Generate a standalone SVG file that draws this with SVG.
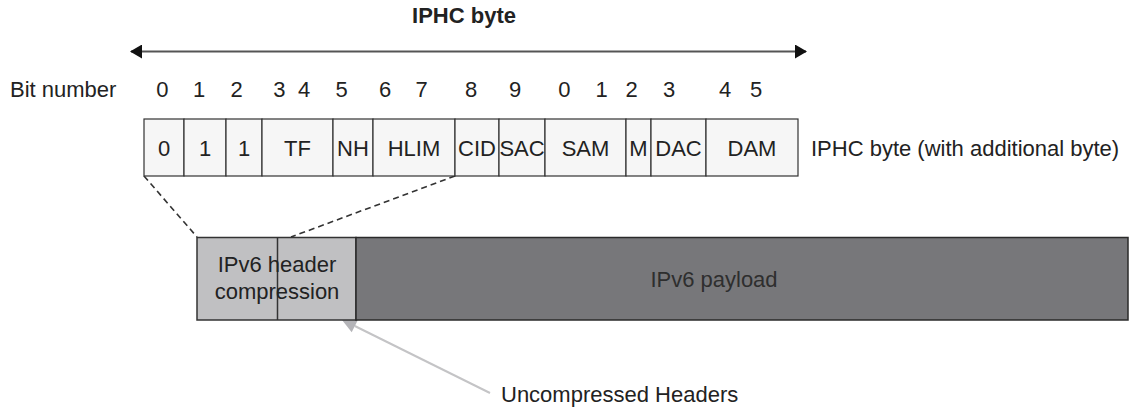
<svg xmlns="http://www.w3.org/2000/svg" width="1129" height="408" viewBox="0 0 1129 408">
<defs>
<style>
text{font-family:"Liberation Sans",Arial,sans-serif;font-size:22px;fill:#222}
.c{text-anchor:middle}
.b{font-weight:bold}
.cell{fill:#f6f6f6;stroke:#333;stroke-width:1.2}
.dash{stroke:#333;stroke-width:1.6;stroke-dasharray:6,4;fill:none}
</style>
<marker id="ah" viewBox="0 0 12 14" refX="11" refY="7" markerWidth="12" markerHeight="14" markerUnits="userSpaceOnUse" orient="auto-start-reverse">
<path d="M0,0 L12,7 L0,14 Z" fill="#111"/>
</marker>
</defs>
<rect width="1129" height="408" fill="#fff"/>
<g id="title">
<text class="c b" x="464" y="23">IPHC byte</text>
</g>
<g id="connectors">
<line x1="131" y1="51.5" x2="806" y2="51.5" stroke="#555" stroke-width="2" marker-start="url(#ah)" marker-end="url(#ah)"/>
<line class="dash" x1="144" y1="176" x2="197" y2="237"/>
<line class="dash" x1="455" y1="176" x2="291" y2="237"/>
<line x1="354.8" y1="326" x2="490" y2="393" stroke="#c4c4c6" stroke-width="2"/>
<polygon points="342,320 358,319.7 351.7,332.3" fill="#b4b4b8"/>
</g>
<g id="bit-numbers">
<text x="10" y="97">Bit number</text>
<text class="c" x="162.3" y="97">0</text>
<text class="c" x="199" y="97">1</text>
<text class="c" x="236.7" y="97">2</text>
<text class="c" x="279.3" y="97">3</text>
<text class="c" x="304" y="97">4</text>
<text class="c" x="341.7" y="97">5</text>
<text class="c" x="385" y="97">6</text>
<text class="c" x="421.7" y="97">7</text>
<text class="c" x="471" y="97">8</text>
<text class="c" x="515" y="97">9</text>
<text class="c" x="564.3" y="97">0</text>
<text class="c" x="601.7" y="97">1</text>
<text class="c" x="631.7" y="97">2</text>
<text class="c" x="669" y="97">3</text>
<text class="c" x="725" y="97">4</text>
<text class="c" x="756" y="97">5</text>
</g>
<g id="iphc-fields">
<rect class="cell" x="144" y="119" width="40" height="57"/>
<rect class="cell" x="184" y="119" width="42" height="57"/>
<rect class="cell" x="226" y="119" width="36" height="57"/>
<rect class="cell" x="262" y="119" width="71" height="57"/>
<rect class="cell" x="333" y="119" width="40" height="57"/>
<rect class="cell" x="373" y="119" width="82" height="57"/>
<rect class="cell" x="455" y="119" width="44" height="57"/>
<rect class="cell" x="499" y="119" width="46" height="57"/>
<rect class="cell" x="545" y="119" width="81" height="57"/>
<rect class="cell" x="626" y="119" width="25" height="57"/>
<rect class="cell" x="651" y="119" width="55" height="57"/>
<rect class="cell" x="706" y="119" width="92" height="57"/>
<text class="c" x="164" y="156">0</text>
<text class="c" x="205" y="156">1</text>
<text class="c" x="244" y="156">1</text>
<text class="c" x="297.5" y="156">TF</text>
<text class="c" x="353" y="156">NH</text>
<text class="c" x="414" y="156">HLIM</text>
<text class="c" x="477" y="156">CID</text>
<text class="c" x="522" y="156">SAC</text>
<text class="c" x="585.5" y="156">SAM</text>
<text class="c" x="638.5" y="156">M</text>
<text class="c" x="678.5" y="156">DAC</text>
<text class="c" x="752" y="156">DAM</text>
<text x="811" y="156">IPHC byte (with additional byte)</text>
</g>
<g id="header-compression">
<rect x="197" y="237.5" width="159" height="82.5" fill="#c0c0c2" stroke="#333" stroke-width="1.5"/>
<line x1="277.5" y1="237.5" x2="277.5" y2="320" stroke="#333" stroke-width="1.5"/>
<text class="c" x="277" y="272">IPv6 header</text>
<text class="c" x="277" y="298.5">compression</text>
</g>
<g id="payload">
<rect x="356" y="237.5" width="772" height="82.5" fill="#77777a" stroke="#2a2a2a" stroke-width="1.5"/>
<text class="c" x="714" y="287" style="fill:#2e2e2e">IPv6 payload</text>
</g>
<g id="uncompressed-label">
<text x="501" y="402">Uncompressed Headers</text>
</g>
</svg>
